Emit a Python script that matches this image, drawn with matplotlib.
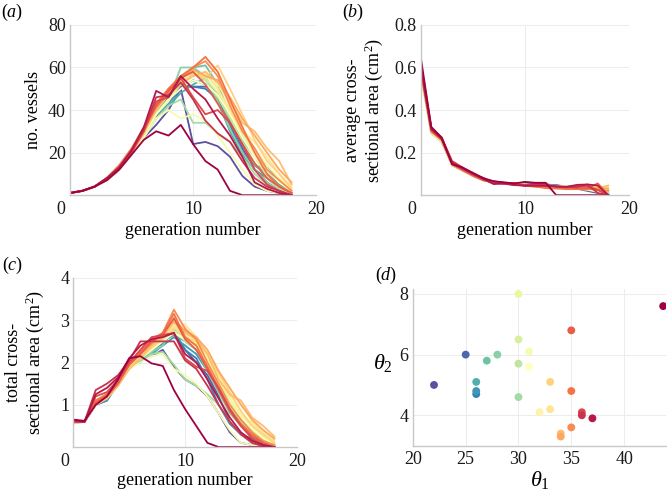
import numpy as np
import matplotlib
matplotlib.use("Agg")
import matplotlib.pyplot as plt
from matplotlib.transforms import offset_copy

plt.rcParams['font.family'] = ['Liberation Serif', 'DejaVu Serif']
plt.rcParams['mathtext.fontset'] = 'custom'
plt.rcParams['mathtext.rm'] = 'Liberation Serif'
plt.rcParams['mathtext.it'] = 'Liberation Serif:italic'

# generation index shared by panels a-c
generation = list(range(19))

# panel d: one point per subject, sorted by theta1 (colour follows this order)
theta1 = [22, 25, 26, 26, 26, 27, 28, 30, 30, 30, 30, 31, 31, 32, 33, 33, 34, 34, 35, 35, 35, 36, 36, 37, 43.7]
theta2 = [5.0, 6.0, 4.7, 4.8, 5.1, 5.8, 6.0, 4.6, 5.7, 6.5, 8.0, 6.1, 5.6, 4.1, 4.2, 5.1, 3.4, 3.3, 3.6, 4.8, 6.8, 4.1, 4.0, 3.9, 7.6]

# panel a: number of vessels per generation (same subject order)
n_vessels = [
    [1, 2, 4, 8, 13, 20, 27, 33, 40, 50, 24, 25, 23, 18, 9, 4, 2, 1, 0],
    [1, 2, 4, 8, 13, 20, 28, 38, 44, 51, 51, 51, 48, 35, 22, 12, 6, 2, 0],
    [1, 2, 4, 8, 14, 21, 29, 40, 46, 52, 51, 50, 45, 33, 20, 14, 10, 4, 0],
    [1, 2, 4, 8, 13, 20, 29, 37, 43, 50, 54, 52, 44, 30, 19, 12, 8, 3, 0],
    [1, 2, 4, 7, 12, 19, 27, 36, 42, 48, 52, 55, 47, 34, 24, 14, 12, 5, 1],
    [1, 2, 4, 8, 13, 21, 30, 40, 47, 55, 60, 61, 52, 38, 26, 18, 14, 6, 1],
    [1, 2, 4, 8, 14, 21, 30, 39, 45, 60, 60, 56, 44, 31, 20, 12, 6, 2, 0],
    [1, 2, 4, 8, 13, 20, 28, 36, 42, 45, 34, 34, 29, 25, 18, 10, 5, 2, 0],
    [1, 2, 4, 8, 13, 20, 29, 38, 45, 52, 57, 54, 46, 36, 25, 15, 8, 3, 0],
    [1, 2, 4, 8, 13, 21, 30, 40, 48, 56, 58, 55, 48, 40, 28, 18, 9, 4, 1],
    [1, 2, 4, 8, 13, 20, 28, 38, 44, 53, 56, 58, 50, 38, 30, 19, 12, 6, 2],
    [1, 2, 4, 7, 12, 19, 27, 36, 40, 36, 38, 35, 28, 20, 12, 5, 2, 1, 0],
    [1, 2, 4, 8, 13, 20, 29, 38, 45, 50, 54, 52, 47, 38, 27, 18, 12, 6, 2],
    [1, 2, 4, 8, 14, 21, 30, 40, 48, 54, 58, 56, 52, 43, 32, 22, 14, 8, 3],
    [1, 2, 4, 8, 13, 21, 31, 41, 48, 54, 56, 57, 50, 40, 30, 25, 18, 10, 4],
    [1, 2, 4, 8, 13, 20, 30, 40, 47, 52, 57, 55, 61, 50, 38, 26, 16, 10, 3],
    [1, 2, 4, 7, 12, 20, 29, 40, 48, 52, 56, 58, 53, 44, 34, 30, 22, 16, 5],
    [1, 2, 4, 8, 13, 21, 31, 42, 50, 55, 59, 56, 54, 46, 36, 28, 20, 12, 6],
    [1, 2, 4, 8, 13, 21, 31, 41, 48, 55, 60, 63, 56, 42, 30, 22, 12, 7, 2],
    [1, 2, 4, 8, 14, 22, 32, 43, 50, 56, 60, 65, 58, 45, 32, 20, 10, 4, 1],
    [1, 2, 4, 8, 13, 21, 31, 42, 49, 55, 58, 52, 43, 34, 24, 15, 8, 4, 1],
    [1, 2, 4, 8, 13, 20, 30, 44, 46, 55, 46, 38, 40, 34, 24, 12, 5, 2, 0],
    [1, 2, 4, 8, 13, 21, 31, 46, 47, 53, 45, 35, 29, 25, 16, 8, 4, 2, 0],
    [1, 2, 4, 8, 13, 21, 32, 49, 46, 56, 50, 45, 36, 28, 18, 6, 3, 1, 0],
    [1, 2, 4, 7, 12, 19, 26, 30, 28, 33, 24, 16, 12, 2, 0, 0, 0, 0, 0],
]

# panel b: average cross-sectional area (cm^2)
avg_area = [
    [0.57, 0.30, 0.26, 0.145, 0.125, 0.095, 0.075, 0.065, 0.058, 0.052, 0.060, 0.055, 0.050, 0.046, 0.040, 0.030, 0.020, 0.010, 0.000],
    [0.59, 0.31, 0.26, 0.150, 0.120, 0.092, 0.072, 0.064, 0.056, 0.052, 0.058, 0.054, 0.050, 0.045, 0.040, 0.035, 0.025, 0.015, 0.000],
    [0.60, 0.30, 0.25, 0.145, 0.120, 0.090, 0.070, 0.062, 0.055, 0.050, 0.052, 0.050, 0.048, 0.044, 0.040, 0.035, 0.030, 0.020, 0.005],
    [0.58, 0.29, 0.255, 0.140, 0.118, 0.092, 0.072, 0.060, 0.054, 0.050, 0.050, 0.048, 0.047, 0.045, 0.042, 0.038, 0.030, 0.020, 0.010],
    [0.60, 0.30, 0.26, 0.145, 0.120, 0.095, 0.070, 0.062, 0.055, 0.052, 0.050, 0.048, 0.047, 0.044, 0.042, 0.040, 0.035, 0.030, 0.015],
    [0.59, 0.30, 0.26, 0.150, 0.122, 0.093, 0.072, 0.062, 0.056, 0.051, 0.048, 0.047, 0.046, 0.043, 0.040, 0.036, 0.040, 0.030, 0.020],
    [0.57, 0.29, 0.25, 0.140, 0.115, 0.090, 0.070, 0.060, 0.054, 0.050, 0.046, 0.045, 0.044, 0.042, 0.040, 0.038, 0.035, 0.030, 0.010],
    [0.60, 0.31, 0.26, 0.145, 0.120, 0.095, 0.073, 0.062, 0.054, 0.050, 0.050, 0.046, 0.045, 0.042, 0.038, 0.035, 0.030, 0.020, 0.005],
    [0.58, 0.30, 0.27, 0.150, 0.125, 0.095, 0.072, 0.060, 0.055, 0.050, 0.048, 0.046, 0.044, 0.042, 0.040, 0.038, 0.035, 0.030, 0.015],
    [0.60, 0.30, 0.26, 0.150, 0.120, 0.094, 0.072, 0.060, 0.054, 0.050, 0.047, 0.045, 0.044, 0.042, 0.040, 0.038, 0.040, 0.035, 0.020],
    [0.56, 0.29, 0.25, 0.140, 0.120, 0.090, 0.070, 0.060, 0.054, 0.050, 0.048, 0.046, 0.044, 0.042, 0.040, 0.038, 0.040, 0.042, 0.040],
    [0.60, 0.31, 0.27, 0.155, 0.125, 0.095, 0.075, 0.062, 0.055, 0.050, 0.048, 0.046, 0.045, 0.043, 0.040, 0.030, 0.025, 0.015, 0.000],
    [0.58, 0.30, 0.26, 0.145, 0.120, 0.093, 0.072, 0.062, 0.055, 0.050, 0.048, 0.046, 0.044, 0.042, 0.040, 0.040, 0.038, 0.033, 0.020],
    [0.59, 0.30, 0.26, 0.148, 0.120, 0.094, 0.071, 0.061, 0.055, 0.051, 0.048, 0.045, 0.044, 0.042, 0.040, 0.038, 0.040, 0.038, 0.030],
    [0.60, 0.30, 0.26, 0.145, 0.118, 0.092, 0.070, 0.060, 0.054, 0.050, 0.050, 0.046, 0.044, 0.042, 0.040, 0.042, 0.035, 0.038, 0.035],
    [0.58, 0.31, 0.26, 0.150, 0.122, 0.094, 0.072, 0.062, 0.055, 0.051, 0.047, 0.046, 0.038, 0.038, 0.036, 0.033, 0.030, 0.030, 0.030],
    [0.59, 0.30, 0.255, 0.140, 0.115, 0.090, 0.070, 0.060, 0.054, 0.055, 0.048, 0.044, 0.042, 0.036, 0.037, 0.037, 0.032, 0.031, 0.045],
    [0.60, 0.31, 0.27, 0.150, 0.120, 0.092, 0.072, 0.060, 0.054, 0.055, 0.047, 0.046, 0.043, 0.039, 0.039, 0.036, 0.033, 0.035, 0.030],
    [0.59, 0.30, 0.26, 0.148, 0.120, 0.094, 0.072, 0.060, 0.056, 0.058, 0.047, 0.040, 0.036, 0.036, 0.033, 0.030, 0.030, 0.025, 0.020],
    [0.60, 0.31, 0.27, 0.150, 0.122, 0.094, 0.072, 0.060, 0.054, 0.056, 0.043, 0.040, 0.033, 0.031, 0.028, 0.028, 0.030, 0.025, 0.000],
    [0.58, 0.30, 0.26, 0.145, 0.118, 0.092, 0.070, 0.060, 0.054, 0.056, 0.044, 0.044, 0.043, 0.040, 0.035, 0.033, 0.031, 0.055, 0.000],
    [0.61, 0.31, 0.27, 0.150, 0.125, 0.100, 0.077, 0.059, 0.058, 0.049, 0.046, 0.050, 0.045, 0.041, 0.038, 0.042, 0.040, 0.025, 0.000],
    [0.62, 0.32, 0.27, 0.160, 0.130, 0.098, 0.081, 0.054, 0.053, 0.047, 0.046, 0.053, 0.050, 0.040, 0.038, 0.038, 0.050, 0.010, 0.000],
    [0.60, 0.31, 0.265, 0.150, 0.125, 0.100, 0.075, 0.052, 0.057, 0.048, 0.044, 0.044, 0.044, 0.041, 0.039, 0.048, 0.050, 0.045, 0.000],
    [0.645, 0.32, 0.27, 0.145, 0.130, 0.105, 0.080, 0.065, 0.060, 0.055, 0.062, 0.058, 0.058, 0.000, 0.000, 0.000, 0.000, 0.000, 0.000],
]

# panel c: total cross-sectional area (cm^2)
total_area = [
    [0.60, 0.60, 1.00, 1.10, 1.50, 1.90, 2.05, 2.15, 2.30, 1.90, 1.60, 1.45, 1.20, 0.80, 0.35, 0.10, 0.05, 0.02, 0.00],
    [0.58, 0.60, 1.00, 1.15, 1.50, 1.90, 2.00, 2.30, 2.50, 2.70, 2.30, 2.00, 1.70, 1.20, 0.60, 0.30, 0.15, 0.05, 0.00],
    [0.62, 0.60, 1.05, 1.20, 1.55, 1.85, 2.10, 2.30, 2.45, 2.75, 2.30, 2.10, 1.60, 1.00, 0.55, 0.30, 0.20, 0.05, 0.00],
    [0.56, 0.60, 1.00, 1.10, 1.50, 1.90, 2.05, 2.20, 2.40, 2.60, 2.40, 2.20, 1.80, 1.30, 0.90, 0.60, 0.35, 0.10, 0.00],
    [0.60, 0.60, 1.05, 1.20, 1.50, 1.90, 2.10, 2.25, 2.50, 2.65, 2.50, 2.30, 1.90, 1.40, 1.00, 0.60, 0.50, 0.20, 0.02],
    [0.58, 0.60, 1.10, 1.25, 1.55, 1.90, 2.15, 2.30, 2.55, 2.80, 2.60, 2.40, 2.00, 1.50, 1.00, 0.55, 0.60, 0.25, 0.05],
    [0.62, 0.60, 1.10, 1.20, 1.50, 1.90, 2.10, 2.25, 2.40, 2.90, 2.60, 2.30, 1.80, 1.30, 0.80, 0.50, 0.25, 0.10, 0.00],
    [0.60, 0.60, 1.05, 1.15, 1.45, 1.85, 2.05, 2.20, 2.25, 1.95, 1.60, 1.45, 1.25, 1.00, 0.60, 0.30, 0.10, 0.05, 0.00],
    [0.58, 0.60, 1.10, 1.20, 1.50, 1.90, 2.10, 2.30, 2.50, 2.75, 2.50, 2.30, 1.95, 1.45, 0.95, 0.60, 0.30, 0.10, 0.00],
    [0.62, 0.60, 1.10, 1.25, 1.55, 1.95, 2.15, 2.35, 2.60, 2.85, 2.70, 2.40, 2.00, 1.55, 1.05, 0.70, 0.40, 0.15, 0.02],
    [0.60, 0.60, 1.05, 1.20, 1.50, 1.90, 2.10, 2.30, 2.55, 2.80, 2.65, 2.45, 2.10, 1.60, 1.15, 0.75, 0.50, 0.25, 0.05],
    [0.56, 0.60, 1.00, 1.15, 1.45, 1.85, 2.00, 2.15, 2.20, 1.85, 1.70, 1.50, 1.20, 0.80, 0.40, 0.10, 0.05, 0.00, 0.00],
    [0.60, 0.60, 1.05, 1.20, 1.50, 1.90, 2.10, 2.30, 2.50, 2.70, 2.55, 2.35, 2.00, 1.50, 1.00, 0.70, 0.45, 0.20, 0.05],
    [0.62, 0.60, 1.10, 1.25, 1.55, 1.95, 2.15, 2.40, 2.65, 2.90, 2.75, 2.50, 2.15, 1.70, 1.20, 0.80, 0.55, 0.30, 0.10],
    [0.60, 0.60, 1.10, 1.20, 1.50, 1.90, 2.15, 2.40, 2.60, 2.85, 2.90, 2.60, 2.20, 1.60, 1.20, 1.10, 0.60, 0.35, 0.15],
    [0.58, 0.60, 1.05, 1.20, 1.50, 1.90, 2.10, 2.35, 2.55, 2.80, 2.60, 2.50, 2.20, 1.75, 1.30, 0.85, 0.50, 0.30, 0.10],
    [0.60, 0.60, 1.00, 1.15, 1.45, 1.85, 2.10, 2.40, 2.60, 2.95, 2.70, 2.55, 2.20, 1.60, 1.25, 1.10, 0.70, 0.50, 0.25],
    [0.62, 0.60, 1.10, 1.25, 1.55, 1.95, 2.20, 2.45, 2.70, 3.00, 2.75, 2.60, 2.30, 1.80, 1.40, 1.00, 0.65, 0.40, 0.20],
    [0.60, 0.60, 1.10, 1.20, 1.55, 1.95, 2.20, 2.45, 2.70, 3.25, 2.80, 2.55, 2.00, 1.50, 1.00, 0.65, 0.35, 0.15, 0.05],
    [0.58, 0.60, 1.10, 1.25, 1.60, 2.00, 2.25, 2.55, 2.70, 3.15, 2.60, 2.40, 1.90, 1.40, 0.90, 0.55, 0.30, 0.10, 0.00],
    [0.60, 0.60, 1.05, 1.20, 1.50, 1.95, 2.20, 2.50, 2.65, 3.05, 2.55, 2.30, 1.85, 1.35, 0.85, 0.50, 0.25, 0.10, 0.00],
    [0.62, 0.60, 1.20, 1.30, 1.60, 2.00, 2.30, 2.60, 2.65, 2.70, 2.10, 1.90, 1.80, 1.40, 0.90, 0.50, 0.20, 0.05, 0.00],
    [0.60, 0.60, 1.35, 1.50, 1.70, 2.05, 2.50, 2.50, 2.50, 2.50, 2.05, 1.85, 1.45, 1.00, 0.60, 0.30, 0.10, 0.02, 0.00],
    [0.64, 0.60, 1.25, 1.40, 1.65, 2.10, 2.40, 2.55, 2.60, 2.70, 2.20, 2.00, 1.60, 1.15, 0.70, 0.35, 0.15, 0.05, 0.00],
    [0.65, 0.62, 1.00, 1.20, 1.60, 2.10, 2.15, 1.98, 1.92, 1.35, 0.90, 0.50, 0.10, 0.00, 0.00, 0.00, 0.00, 0.00, 0.00],
]

colors = plt.cm.Spectral_r(np.linspace(0, 1, len(theta1)))

fig = plt.figure(figsize=(6.67, 4.99), dpi=100)
ax_a = fig.add_axes([0.105, 0.609, 0.369, 0.341])
ax_b = fig.add_axes([0.631, 0.609, 0.312, 0.341])
ax_c = fig.add_axes([0.110, 0.104, 0.335, 0.339])
ax_d = fig.add_axes([0.619, 0.107, 0.380, 0.313])

FS = 13

def style(ax):
    for s in ['top', 'right']:
        ax.spines[s].set_visible(False)
    for s in ['left', 'bottom']:
        ax.spines[s].set_color('#c8c8c8')
        ax.spines[s].set_linewidth(1.0)
    ax.grid(True, color='#ececec', linewidth=0.7)
    ax.set_axisbelow(True)
    ax.tick_params(length=0, labelsize=FS, colors='#1a1a1a', pad=3)
    ax.tick_params(axis='x', pad=4)

for i in range(len(theta1)):
    ax_a.plot(generation, n_vessels[i], color=colors[i], lw=1.3)
    ax_b.plot(generation, avg_area[i], color=colors[i], lw=1.3)
    ax_c.plot(generation, total_area[i], color=colors[i], lw=1.3)

ax_d.scatter(theta1, theta2, s=32, c=colors, edgecolors='none', zorder=3)

for ax in [ax_a, ax_b, ax_c]:
    ax.set_xlim(0, 20)
    ax.set_xticks([0, 10, 20])
    style(ax)
    ax.set_xlabel('generation number', fontsize=FS)
    ax.xaxis.label.set_va('center')

ax_a.set_ylim(0, 80)
ax_a.set_yticks([20, 40, 60, 80])
ax_a.set_ylabel('no. vessels', fontsize=FS)
ax_a.xaxis.set_label_coords(0.5, -0.206)
ax_a.yaxis.set_label_coords(-0.15, 0.5)

ax_b.set_ylim(0, 0.8)
ax_b.set_yticks([0.2, 0.4, 0.6, 0.8])
ax_b.set_yticklabels(['0.2', '0.4', '0.6', '0.8'])
ax_b.set_ylabel('average cross-\nsectional area (cm$^2$)', fontsize=FS, linespacing=1.1)
ax_b.xaxis.set_label_coords(0.5, -0.206)
ax_b.yaxis.set_label_coords(-0.27, 0.5)

ax_c.set_ylim(0, 4)
ax_c.set_yticks([1, 2, 3, 4])
ax_c.set_ylabel('total cross-\nsectional area (cm$^2$)', fontsize=FS, linespacing=1.1)
ax_c.xaxis.set_label_coords(0.5, -0.2)
ax_c.yaxis.set_label_coords(-0.215, 0.5)

for ax in [ax_a, ax_b, ax_c]:
    ax.yaxis.label.set_va('center')

style(ax_d)
ax_d.set_xlim(20, 44)
ax_d.set_ylim(3.0, 8.15)
ax_d.set_xticks([20, 25, 30, 35, 40])
ax_d.set_yticks([4, 6, 8])
ax_d.set_xlabel(r'$\theta_1$', fontsize=FS + 3)
ax_d.xaxis.label.set_va('center')
ax_d.xaxis.set_label_coords(0.5, -0.22)
ax_d.set_ylabel(r'$\theta_2$', fontsize=FS + 3, rotation=0)
ax_d.yaxis.label.set_va('center')
ax_d.yaxis.set_label_coords(-0.118, 0.53)

# the "0" labels sit a little left of the axis in the original
for ax in [ax_a, ax_b, ax_c]:
    lbl = ax.get_xticklabels()[0]
    lbl.set_transform(offset_copy(lbl.get_transform(), fig=fig, x=-9, y=0, units='dots'))

for txt, x, y in [('a', 12, 12), ('b', 353, 12), ('c', 13, 265), ('d', 386, 275)]:
    fig.text(x / 667, 1 - y / 499, '(' + '$' + txt + '$' + ')', fontsize=FS, ha='center', va='center')

fig.savefig('out.png', dpi=100)
